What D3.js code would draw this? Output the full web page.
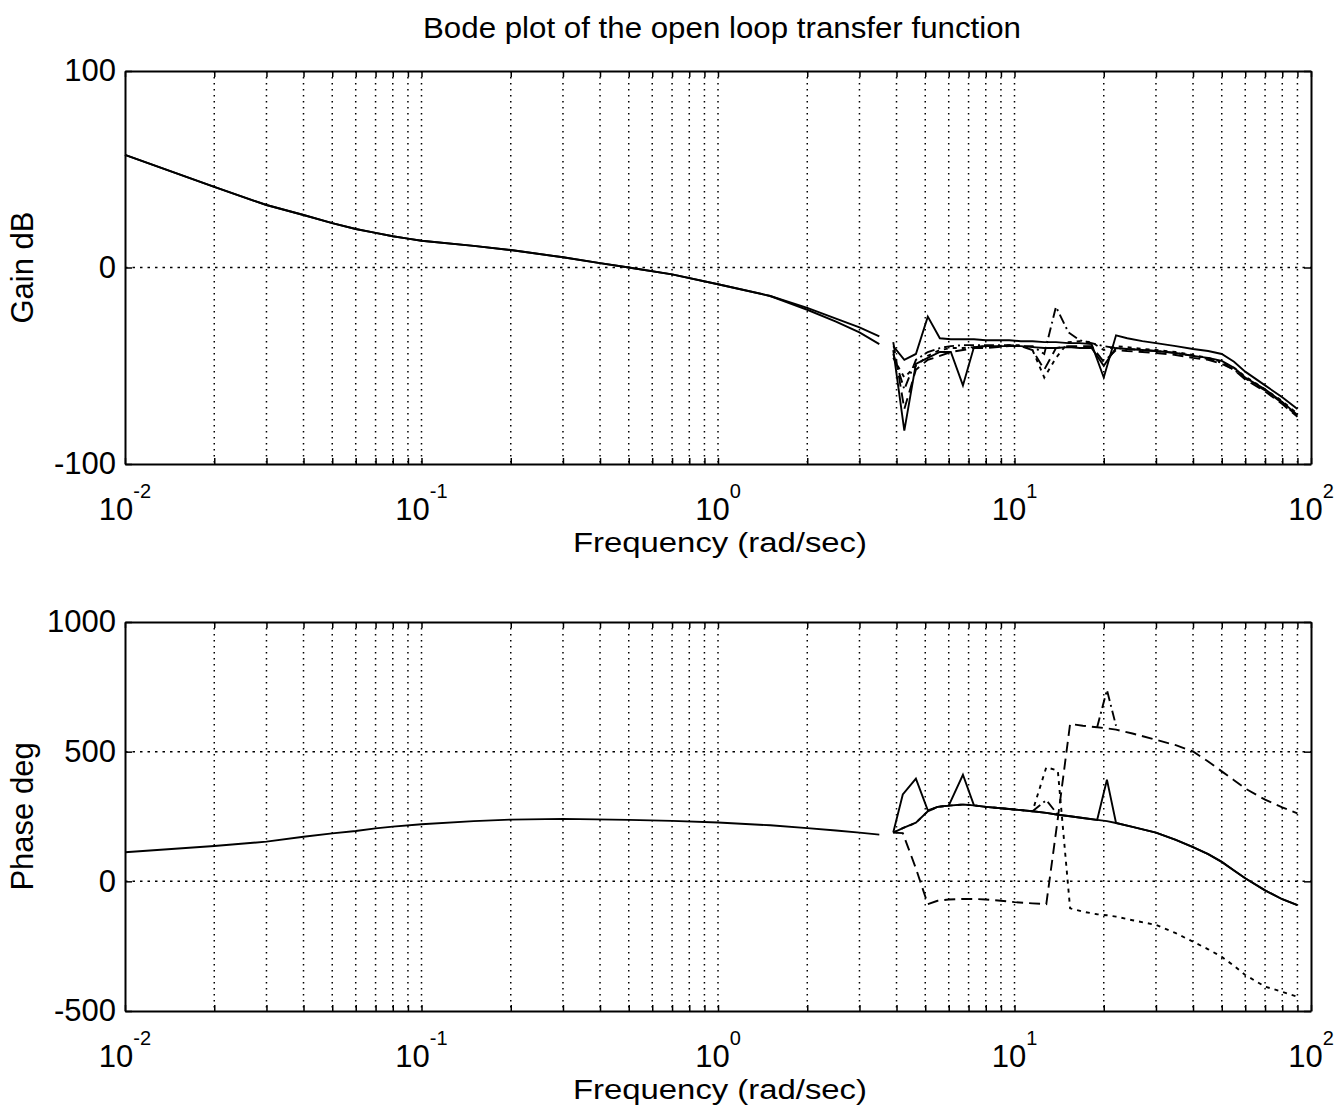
<!DOCTYPE html>
<html><head><meta charset="utf-8">
<script src="https://cdn.jsdelivr.net/npm/d3@7"></script>
<style>
body{margin:0;background:#fff}
text{font-family:"Liberation Sans",Arial,Helvetica,sans-serif;fill:#000}
</style>
</head><body>
<svg id="c" width="1340" height="1110"></svg>
<script>
// ---------------- data ----------------
const titleText = "Bode plot of the open loop transfer function";
const xLabelText = "Frequency (rad/sec)";
const gainLabelText = "Gain dB";
const phaseLabelText = "Phase deg";
const xDecades = [-2, -1, 0, 1, 2];
const gainTicks = [-100, 0, 100];
const phaseTicks = [-500, 0, 500, 1000];

// Gain, low-frequency part (rad/s, dB)
const gainFreqLow = [0.01, 0.02, 0.03, 0.04, 0.05, 0.06, 0.07, 0.08, 0.09, 0.1, 0.15, 0.2, 0.3, 0.4, 0.5, 0.7, 1, 1.5, 2, 2.5, 3, 3.5];
const gainLowA = [57.3, 41, 31.8, 26.7, 22.6, 19.6, 17.6, 15.9, 14.7, 13.6, 11, 8.9, 5.2, 2.2, 0, -3.5, -8.5, -14.5, -20.5, -26, -30.5, -35];
const gainLowB = [57.3, 41, 31.8, 26.7, 22.6, 19.6, 17.6, 15.9, 14.7, 13.6, 11, 8.9, 5.2, 2.2, 0, -3.5, -8.5, -14.5, -21.5, -27.5, -33, -39];

// Gain, high-frequency part
const gainFreqHigh = [3.9, 4.25, 4.65, 5.1, 5.6, 6.1, 6.7, 7.3, 8.0, 8.8, 9.6, 10.5, 11.5, 12.6, 13.8, 15.2, 16.6, 18.2, 20, 22, 24, 27, 30, 35, 40, 45, 50, 55, 60, 70, 80, 90];
const gainHighSolidA = [-40, -47, -44, -25, -36, -36.5, -36.5, -36.5, -37, -37, -37, -37.5, -37.5, -38, -38, -38.5, -38.5, -39, -56, -34.5, -36, -37.5, -38.5, -40, -41.5, -42.5, -44, -48, -53, -60, -66, -72];
const gainHighSolidB = [-42, -83, -49, -46, -43, -43, -60, -40.5, -40, -40, -40, -40, -40.5, -41, -41, -40.5, -41, -41, -50, -41, -41.5, -42, -42.5, -43.5, -45, -46, -47.5, -51, -56, -62, -68.5, -75];
const gainHighDashed = [-38, -72, -52, -47, -45, -43, -42, -41, -41, -40.5, -40, -40, -42, -52, -41, -40, -40, -40, -48, -42, -42.5, -43, -43.5, -44.5, -46, -47, -49, -52, -57, -63, -69.5, -76];
const gainHighDashDot = [-44, -62, -47, -43, -41, -40, -39.5, -39.5, -39.5, -39.5, -39.5, -40, -40, -44, -20, -33, -37, -38.5, -40, -41, -41.5, -42, -42.5, -43.5, -45, -46.5, -48.5, -52, -56.5, -62.5, -69, -75.5];
const gainHighDotted = [-46, -56, -50, -45, -42, -41, -41, -40.5, -40, -40, -39.5, -39.5, -42, -56, -46, -38, -37.5, -38, -42, -40, -40.5, -41.5, -42, -43, -44.5, -46, -48, -51, -55.5, -62, -68, -74.5];

// Phase, low-frequency part (rad/s, deg)
const phaseFreqLow = [0.01, 0.02, 0.03, 0.04, 0.05, 0.06, 0.07, 0.08, 0.1, 0.15, 0.2, 0.3, 0.5, 0.7, 1, 1.5, 2, 2.5, 3, 3.5];
const phaseLow = [112, 136, 153, 172, 185, 194, 204, 211, 220, 232, 238, 241, 237, 233, 227, 216, 205, 196, 188, 180];

// Phase, high-frequency part
const phaseFreqHigh = [3.9, 4.2, 4.65, 5.1, 5.5, 6.0, 6.7, 7.3, 8, 9, 10, 11.5, 12.8, 14, 15.4, 17, 19, 20.5, 22, 25, 30, 35, 40, 45, 50, 55, 60, 70, 80, 90];
const phaseSolid = [188, 205, 226, 270, 287, 292, 296, 293, 287, 282, 277, 270, 264, 257, 251, 244, 237, 232, 225, 210, 188, 160, 132, 105, 75, 42, 12, -35, -69, -92];
const phaseSpiky = [188, 335, 396, 274, 287, 292, 411, 293, 287, 282, 277, 270, 264, 257, 251, 244, 237, 392, 225, 210, 188, 160, 132, 105, 75, 42, 12, -35, -69, -92];
const phaseDashed = [188, 186, 50, -88, -75, -70, -68, -68, -70, -75, -80, -85, -88, 242, 607, 600, 594, 590, 585, 570, 546, 525, 501, 462, 424, 390, 358, 315, 285, 262];
const phaseDotted = [188, 205, 226, 270, 287, 292, 296, 293, 287, 282, 277, 270, 440, 427, -104, -117, -127, -131, -136, -150, -168, -200, -233, -262, -291, -326, -361, -406, -426, -445];
const phaseDashDot = [null, null, null, null, null, null, null, null, null, null, null, 270, 313, 257, null, null, 594, 738, 600, null, null, null, null, null, null, null, null, null, null, null];

// ---------------- drawing ----------------
const svg = d3.select("#c");
const left = 125, right = 1311;
const x = d3.scaleLog().domain([0.01, 100]).range([left, right]);
const gridVals = [];
for (let e = -2; e < 2; e++) for (let m = 1; m < 10; m++) gridVals.push(+(m * Math.pow(10, e)).toPrecision(3));
gridVals.push(100);

const styles = {
  solid: {w: 1.9, dash: null},
  dashed: {w: 1.9, dash: "11,6"},
  dashdot: {w: 1.9, dash: "10,4,2,4"},
  dotted: {w: 1.9, dash: "4,5"}
};

svg.append("text").attr("x", 722).attr("y", 38).attr("text-anchor", "middle")
  .attr("font-size", 29).attr("textLength", 598).attr("lengthAdjust", "spacingAndGlyphs").text(titleText);

function panel(top, bottom, domain, ticks, label, series) {
  const y = d3.scaleLinear().domain(domain).range([bottom, top]);
  const g = svg.append("g");
  // grid
  g.append("g").selectAll("line").data(gridVals.filter(v => v > 0.0100001 && v < 99.9))
    .join("line").attr("x1", d => x(d)).attr("x2", d => x(d)).attr("y1", top).attr("y2", bottom)
    .attr("stroke", "#000").attr("stroke-width", 1.5).attr("stroke-dasharray", "1.6,4.4");
  g.append("g").selectAll("line").data(ticks.filter(t => t > domain[0] && t < domain[1]))
    .join("line").attr("x1", left).attr("x2", right).attr("y1", d => y(d)).attr("y2", d => y(d))
    .attr("stroke", "#000").attr("stroke-width", 1.5).attr("stroke-dasharray", "2.5,5");
  // axes (inward ticks)
  const ax = [
    g.append("g").attr("transform", `translate(0,${bottom})`).call(d3.axisBottom(x).tickValues(gridVals).tickSize(-6).tickSizeOuter(0).tickFormat("")),
    g.append("g").attr("transform", `translate(0,${top})`).call(d3.axisTop(x).tickValues(gridVals).tickSize(-6).tickSizeOuter(0).tickFormat("")),
    g.append("g").attr("transform", `translate(${left},0)`).call(d3.axisLeft(y).tickValues(ticks).tickSize(-7).tickSizeOuter(0).tickPadding(9).tickFormat(d => String(d))),
    g.append("g").attr("transform", `translate(${right},0)`).call(d3.axisRight(y).tickValues(ticks).tickSize(-7).tickSizeOuter(0).tickFormat(""))
  ];
  ax.forEach(a => {
    a.selectAll("path.domain").attr("stroke", "#000").attr("stroke-width", 2);
    a.selectAll("line").attr("stroke", "#000").attr("stroke-width", 1.5);
    a.selectAll("text").attr("font-size", 31).attr("font-family", '"Liberation Sans",Arial,sans-serif').attr("fill", "#000");
  });
  // x tick labels 10^k
  xDecades.forEach(e => {
    const t = g.append("text").attr("x", x(Math.pow(10, e))).attr("y", bottom + 56)
      .attr("text-anchor", "middle").attr("font-size", 31);
    t.append("tspan").text("10");
    t.append("tspan").attr("dy", -22).attr("font-size", 20).text(String(e));
  });
  g.append("text").attr("x", 720).attr("y", bottom + 88).attr("text-anchor", "middle")
    .attr("font-size", 27).attr("textLength", 294).attr("lengthAdjust", "spacingAndGlyphs").text(xLabelText);
  g.append("text").attr("transform", `translate(33,${(top + bottom) / 2}) rotate(-90)`)
    .attr("text-anchor", "middle").attr("font-size", 31).text(label);
  // data lines
  const line = d3.line().defined(d => d[1] != null).x(d => x(d[0])).y(d => y(d[1]));
  series.forEach(s => {
    const st = styles[s.style];
    g.append("path").datum(s.f.map((f, i) => [f, s.v[i]]))
      .attr("d", line).attr("fill", "none").attr("stroke", "#000")
      .attr("stroke-width", st.w).attr("stroke-dasharray", st.dash)
      .attr("stroke-linejoin", "miter");
  });
}

panel(71, 464, [-100, 100], gainTicks, gainLabelText, [
  {f: gainFreqLow, v: gainLowA, style: "solid"},
  {f: gainFreqLow, v: gainLowB, style: "solid"},
  {f: gainFreqHigh, v: gainHighDotted, style: "dotted"},
  {f: gainFreqHigh, v: gainHighDashDot, style: "dashdot"},
  {f: gainFreqHigh, v: gainHighDashed, style: "dashed"},
  {f: gainFreqHigh, v: gainHighSolidB, style: "solid"},
  {f: gainFreqHigh, v: gainHighSolidA, style: "solid"}
]);

panel(622, 1011, [-500, 1000], phaseTicks, phaseLabelText, [
  {f: phaseFreqLow, v: phaseLow, style: "solid"},
  {f: phaseFreqHigh, v: phaseDotted, style: "dotted"},
  {f: phaseFreqHigh, v: phaseDashed, style: "dashed"},
  {f: phaseFreqHigh, v: phaseDashDot, style: "dashdot"},
  {f: phaseFreqHigh, v: phaseSpiky, style: "solid"},
  {f: phaseFreqHigh, v: phaseSolid, style: "solid"}
]);
</script>
</body></html>
